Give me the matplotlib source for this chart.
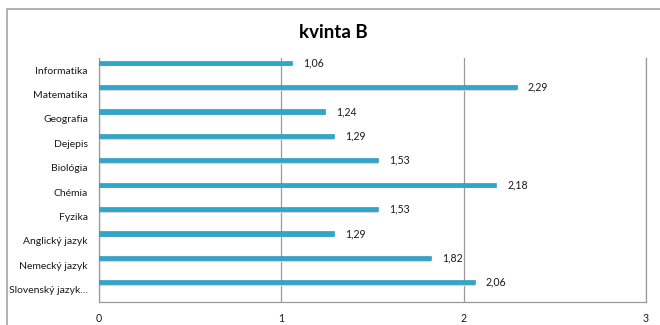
import matplotlib
matplotlib.use("Agg")
import matplotlib.pyplot as plt
from matplotlib.patches import Rectangle

categories = ["Informatika", "Matematika", "Geografia", "Dejepis", "Biológia",
              "Chémia", "Fyzika", "Anglický jazyk", "Nemecký jazyk", "Slovenský jazyk…"]
values = [1.06, 2.29, 1.24, 1.29, 1.53, 2.18, 1.53, 1.29, 1.82, 2.06]
value_labels = ["1,06", "2,29", "1,24", "1,29", "1,53", "2,18", "1,53", "1,29", "1,82", "2,06"]
xticks = [0, 1, 2, 3]
title = "kvinta B"

plt.rcParams['font.family'] = ['Lato', 'DejaVu Sans']

fig = plt.figure(figsize=(6.6, 3.25), dpi=100)
ax = fig.add_axes([99/660, 1 - 302/325, (646 - 99)/660, (302 - 58)/325])

# outer chart frame
fig.patches.append(Rectangle((7/660, -0.2), 1.2, 1 - 9/325 + 0.2, transform=fig.transFigure,
                             fill=False, edgecolor='#a6a6a6', linewidth=1.2, clip_on=False))

pos = list(range(len(categories)))
offset = -0.31
bh = 0.17
# subtle shadow
ax.barh([p + offset + 0.07 for p in pos], values, height=bh, color='#d5d5d5', zorder=2)
ax.barh([p + offset for p in pos], values, height=bh, color='#2fa6cb', edgecolor='#1f8fb2',
        linewidth=0.4, zorder=3)

for p, v, lab in zip(pos, values, value_labels):
    ax.text(v + 0.06, p + offset, lab, va='center', ha='left', fontsize=7.6, color='#1a1a1a')

ax.set_xlim(0, 3)
ax.set_ylim(len(categories) - 0.5, -0.5)
ax.set_xticks(xticks)
ax.set_xticklabels([str(t) for t in xticks], fontsize=7.6, color='#1a1a1a')
ax.set_yticks(pos)
ax.set_yticklabels(categories, fontsize=7.5, color='#1a1a1a')
ax.tick_params(axis='both', length=0)
ax.tick_params(axis='x', pad=8)
ax.tick_params(axis='y', pad=8)

ax.grid(axis='x', color='#9a9a9a', linewidth=0.9, zorder=1)
ax.set_axisbelow(True)
for s in ['top']:
    ax.spines[s].set_visible(False)
for s in ['left', 'bottom', 'right']:
    ax.spines[s].set_color('#9a9a9a')
    ax.spines[s].set_linewidth(0.9)

fig.text(333/660, 1 - 33/325, title, ha='center', va='center', fontsize=13.5, fontweight='bold')

fig.savefig("out.png", dpi=100)
